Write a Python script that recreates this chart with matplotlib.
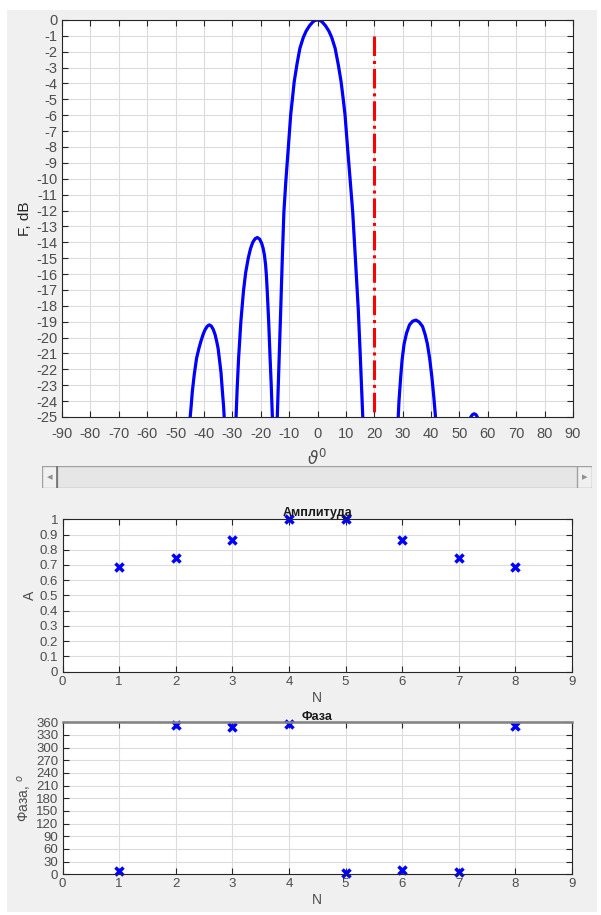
import matplotlib.pyplot as plt
from matplotlib.patches import Rectangle

plt.rcParams['font.family'] = ['Liberation Sans', 'DejaVu Sans']
plt.rcParams['axes.unicode_minus'] = False

# pattern (deg, dB); values below -25 are clipped
theta = [-60,
         -45.1, -44.5, -44.1, -43.4, -42.6, -41.8, -41.1, -40.3, -39.6, -38.8, -38.1,
         -37.4, -36.7, -36.1, -35.5, -35.0, -34.6, -34.0, -33.5, -33.1, -32.7, -31.0,
         -28.8, -28.3, -27.8, -27.0, -26.1, -25.3, -24.4, -23.6, -22.8, -22.0, -21.2,
         -20.4, -19.7, -19.2, -18.7, -18.3, -18.0, -17.7, -17.2, -16.7, -16.3, -15.8, -15.1,
         -14.3, -14.15, -13.55, -12.96, -12.4, -11.84, -11.17, -10.3, -9.45, -8.8, -8.2,
         -7.2, -6.2, -5.0, -4.0, -2.8, -1.5, -0.7, 0,
         0.7, 1.5, 2.8, 4.0, 5.0, 6.2, 7.3, 8.3, 9.0, 9.7, 10.6,
         11.55, 12.4, 13.4, 14.37, 15.15, 15.92, 16.1, 22.0,
         28.3, 28.7, 29.3, 29.8, 30.5, 31.4, 32.4, 33.5, 34.7, 35.8, 37.0, 37.9, 38.7,
         39.5, 40.3, 41.0, 41.8, 47.0,
         53.5, 54.0, 54.6, 55.2, 55.8, 56.3, 56.8, 62.0, 90]
F_db = [-40,
        -25.5, -24.3, -23.4, -22.3, -21.3, -20.7, -20.25, -19.8, -19.5, -19.28, -19.2,
        -19.28, -19.5, -19.8, -20.25, -20.7, -21.3, -22.2, -23.4, -24.3, -25.5, -40,
        -25.5, -23.2, -21.3, -19.0, -17.1, -15.9, -15.0, -14.4, -14.0, -13.78, -13.7,
        -13.8, -14.05, -14.35, -14.8, -15.4, -16.1, -17.1, -19.0, -21.3, -23.0, -25.5, -40,
        -25.5, -24.9, -21.5, -18.26, -15.0, -12.09, -10.18, -8.08, -5.98, -4.9, -3.88,
        -2.75, -1.78, -1.1, -0.7, -0.36, -0.1, -0.02, 0,
        -0.02, -0.1, -0.36, -0.7, -1.1, -1.78, -2.8, -3.88, -4.9, -5.98, -8.08,
        -10.18, -12.09, -15.2, -18.26, -21.5, -24.9, -25.5, -40,
        -25.5, -24.0, -22.5, -21.4, -20.4, -19.7, -19.2, -18.97, -18.9, -19.02, -19.3, -19.8, -20.4,
        -21.3, -22.5, -23.8, -25.5, -40,
        -25.5, -25.0, -24.85, -24.8, -24.85, -25.0, -25.5, -40, -40]
steer_deg = 20
steer_db = [-1, -25]

N = [1, 2, 3, 4, 5, 6, 7, 8]
amp = [0.69, 0.745, 0.865, 1.0, 1.0, 0.865, 0.745, 0.69]
phase = [7, 354, 349, 357, 2, 10, 5, 352]

fig = plt.figure(figsize=(6.01, 9.15), dpi=100)
fig.patch.set_facecolor('white')
fig.patches.append(Rectangle((0.0116, 0.0033), 0.982, 0.9857, transform=fig.transFigure,
                             facecolor='#f0f0f0', edgecolor='none', zorder=-10))


def matlab_style(ax, fs):
    ax.set_facecolor('white')
    ax.grid(True, color='#dcdcdc', linewidth=0.8)
    ax.set_axisbelow(True)
    for s in ax.spines.values():
        s.set_color('#262626')
        s.set_linewidth(0.8)
    ax.tick_params(direction='in', top=True, right=True, length=4, width=0.8,
                   labelsize=fs, labelcolor='#4d4d4d', color='#262626', pad=3)


ax1 = fig.add_axes([0.1032, 0.5443, 0.8502, 0.4339])
matlab_style(ax1, 10.5)
ax1.tick_params(axis='x', pad=7)
ax1.plot(theta, F_db, color='blue', linewidth=2.3, clip_on=True)
ax1.plot([steer_deg, steer_deg], steer_db, color='red', linewidth=2.2, linestyle='-.')
ax1.set_xlim(-90, 90)
ax1.set_ylim(-25, 0)
ax1.set_xticks(range(-90, 91, 10))
ax1.set_yticks(range(-25, 1, 1))
ax1.set_ylabel('F, dB', fontsize=11, color='#262626', labelpad=3)
ax1.set_xlabel(r'$\vartheta^0$', fontsize=12, color='#4d4d4d', labelpad=5)

# slider
axs = fig.add_axes([0.0699, 0.4667, 0.915, 0.024])
axs.set_xlim(0, 550)
axs.set_ylim(0, 22)
axs.axis('off')
axs.add_patch(Rectangle((0, 0), 550, 22, facecolor='#e6e6e6', edgecolor='#a0a0a0', linewidth=1))
axs.add_patch(Rectangle((0, 0), 15, 22, facecolor='#f0f0f0', edgecolor='#a0a0a0', linewidth=1))
axs.add_patch(Rectangle((535, 0), 15, 22, facecolor='#f0f0f0', edgecolor='#a0a0a0', linewidth=1))
axs.plot([15, 15], [0, 22], color='#707070', linewidth=1.2)
axs.text(7.5, 11, '◂', ha='center', va='center', fontsize=8, color='#909090', family='DejaVu Sans')
axs.text(542.5, 11, '▸', ha='center', va='center', fontsize=8, color='#909090', family='DejaVu Sans')

ax2 = fig.add_axes([0.104, 0.2659, 0.8478, 0.1666])
matlab_style(ax2, 9.5)
ax2.plot(N, amp, linestyle='none', marker='x', color='blue', markersize=6, markeredgewidth=2.5,
         clip_on=False)
ax2.set_xlim(0, 9)
ax2.set_ylim(0, 1)
ax2.set_xticks(range(0, 10))
ax2.set_yticks([i / 10 for i in range(11)])
ax2.set_yticklabels(['0'] + ['%.1f' % (i / 10) for i in range(1, 10)] + ['1'])
ax2.set_title('Амплитуда', fontsize=9, fontweight='bold', color='#1a1a1a', pad=2)
ax2.set_xlabel('N', fontsize=10, color='#4d4d4d', labelpad=2)
ax2.set_ylabel('A', fontsize=10, color='#4d4d4d', labelpad=2)

ax3 = fig.add_axes([0.104, 0.0445, 0.8478, 0.1661])
matlab_style(ax3, 9.5)
ax3.spines['top'].set_color('#808080')
ax3.spines['top'].set_linewidth(1.8)
ax3.plot(N, phase, linestyle='none', marker='x', color='blue', markersize=6, markeredgewidth=2.5,
         clip_on=False)
ax3.set_xlim(0, 9)
ax3.set_ylim(0, 360)
ax3.set_xticks(range(0, 10))
ax3.set_yticks(range(0, 361, 30))
ax3.set_title('Фаза', fontsize=9, fontweight='bold', color='#1a1a1a', pad=2)
ax3.set_xlabel('N', fontsize=10, color='#4d4d4d', labelpad=2)
ax3.set_ylabel(r'Фаза, $^{o}$', fontsize=10, color='#4d4d4d', labelpad=2)

fig.savefig('out.png', dpi=100)
